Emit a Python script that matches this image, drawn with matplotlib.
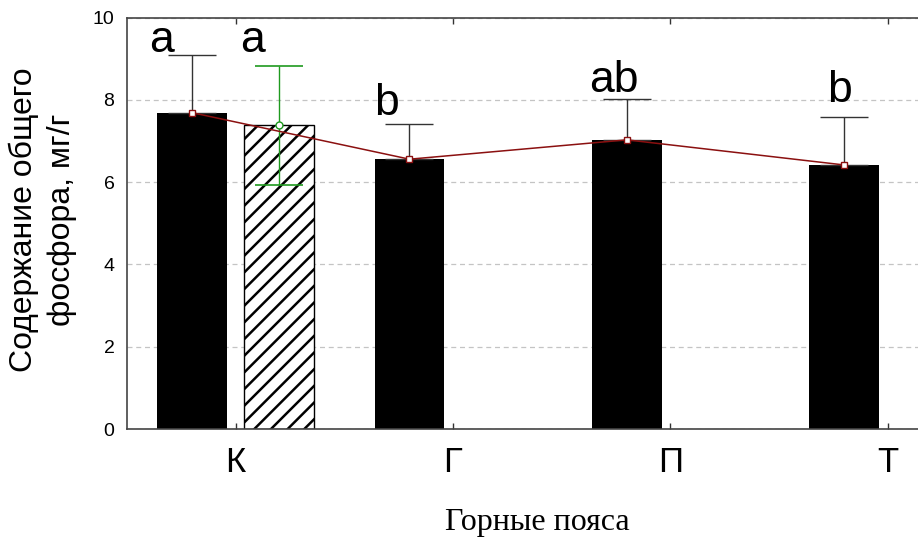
import matplotlib
matplotlib.use("Agg")
import matplotlib.pyplot as plt
import numpy as np

plt.rcParams['font.family'] = ['Liberation Sans', 'DejaVu Sans']
plt.rcParams['hatch.linewidth'] = 1.8

# Data
belts = ["К", "Г", "П", "Т"]
belt_means = [7.69, 6.56, 7.03, 6.42]
belt_err_up = [1.40, 0.86, 0.99, 1.16]

ref_mean = 7.38          # second series, present only for К
ref_err = 1.45

letters = ["a", "a", "b", "ab", "b"]
letter_x = [-0.341, 0.078, 0.695, 1.740, 2.777]
letter_y = [9.17, 9.17, 7.63, 8.20, 7.96]

yticks = [0, 2, 4, 6, 8, 10]

fig = plt.figure(figsize=(9.18, 5.38), dpi=100)
ax = fig.add_axes([127 / 918, 1 - 429 / 538, 4 * 217.3 / 918, (429 - 17.7) / 538])

x = np.arange(len(belts))
off = 0.2
w = 0.322

# black bars with one-sided error bars
ax.bar(x - off, belt_means, width=w, color='black', zorder=2)
ax.errorbar(x - off, belt_means, yerr=[np.zeros(len(belt_means)), belt_err_up],
            fmt='none', ecolor='#333333', elinewidth=1.0, capsize=17.6,
            capthick=1.0, zorder=3)

# hatched bar
ax.bar([0 + off], [ref_mean], width=w, color='white', edgecolor='black',
       hatch='//', linewidth=1.0, zorder=2)
ax.errorbar([0 + off], [ref_mean], yerr=[[ref_err], [ref_err]], fmt='o',
            color='#1f9a1f', mfc='white', mec='#1f9a1f', ms=5,
            elinewidth=1.0, capsize=17.6, capthick=1.2, zorder=4)

# connecting line through the means
ax.plot(x - off, belt_means, color='#8b1010', lw=1.1, marker='s', ms=5,
        mfc='white', mec='#8b1010', mew=1.0, zorder=5)

for t, lx, ly in zip(letters, letter_x, letter_y):
    ax.text(lx, ly, t, fontsize=32, ha='center', va='baseline', zorder=6)

ax.set_xlim(-0.5, 3.5)
ax.set_ylim(0, 10)
ax.set_yticks(yticks)
ax.set_yticklabels([str(v) for v in yticks], fontsize=14)
ax.set_xticks(x)
ax.set_xticklabels(belts, fontsize=25)
ax.tick_params(axis='x', direction='in', length=4, width=1, color='#333333',
               top=True, pad=12)
ax.tick_params(axis='y', length=0, pad=9)

ax.yaxis.grid(True, linestyle=(0, (4, 3)), color='#c4c4c4', lw=0.9, zorder=0)
ax.set_axisbelow(True)

for s in ['left', 'top', 'bottom']:
    ax.spines[s].set_color('#444444')
    ax.spines[s].set_linewidth(1.2)
ax.spines['right'].set_visible(False)

fig.text(537 / 918, 1 - 530 / 538, "Горные пояса", family=['Liberation Serif'],
         fontsize=23, ha='center', va='baseline')
fig.text(43 / 918, 1 - 220 / 538, "Содержание общего\nфосфора, мг/г", fontsize=23,
         rotation=90, ha='center', va='center', linespacing=1.35)

fig.savefig("out.png", dpi=100)
